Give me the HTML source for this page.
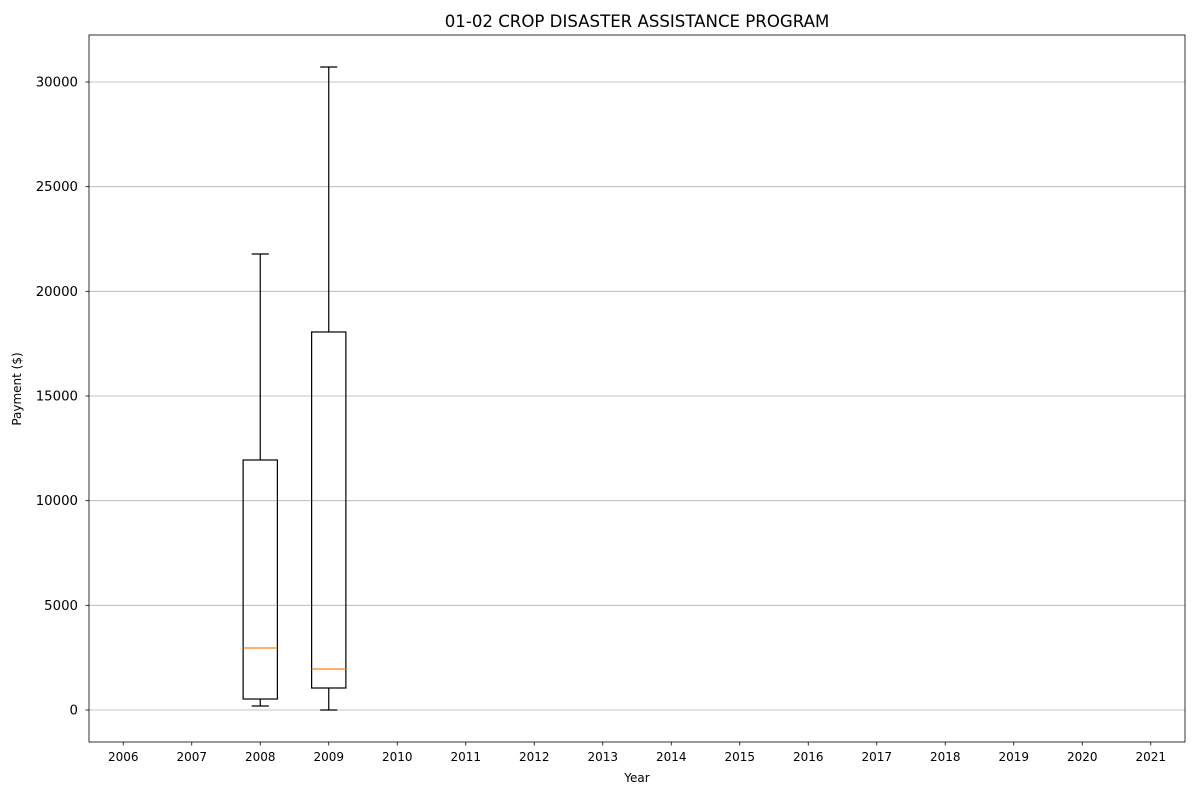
<!DOCTYPE html>
<html><head><meta charset="utf-8"><style>
body{margin:0;background:#fff;}
svg text{font-family:"DejaVu Sans","Liberation Sans",sans-serif;fill:#000;}
</style></head><body>
<svg id="chart" width="1200" height="800">
<rect width="1200" height="800" fill="#fff"/>
<text x="637" y="27" font-size="16.6" text-anchor="middle">01-02 CROP DISASTER ASSISTANCE PROGRAM</text>
<g id="grid"></g><g id="boxes"></g><g id="axes"></g>
<text x="637" y="782" font-size="12" text-anchor="middle">Year</text>
<text x="21" y="389" font-size="12" text-anchor="middle" transform="rotate(-90 21 389)">Payment ($)</text>
</svg>
<script>
const categories=["2006","2007","2008","2009","2010","2011","2012","2013","2014","2015","2016","2017","2018","2019","2020","2021"];
const boxYears=["2008","2009"];
const whiskerLow=[190,0];
const q1Values=[525,1051];
const medians=[2962,1959];
const q3Values=[11943,18058];
const whiskerHigh=[21784,30717];
const yTicks=[0,5000,10000,15000,20000,25000,30000];
const L=89,R=1185,T=35,B=742;
const y0=710,yPer=(710-82)/30000;
function ys(v){return y0-v*yPer;}
function xs(i){return L+(i+0.5)*(R-L)/categories.length;}
const NS="http://www.w3.org/2000/svg";
function mk(parent,tag,attrs){const e=document.createElementNS(NS,tag);for(const k in attrs)e.setAttribute(k,attrs[k]);document.getElementById(parent).appendChild(e);return e;}
yTicks.forEach(v=>{
 const g=mk('grid','line',{x1:L,x2:R,y1:ys(v),y2:ys(v),stroke:'#b0b0b0','stroke-width':0.8});
 
 
 mk('axes','line',{x1:L-3.5,x2:L,y1:ys(v),y2:ys(v),stroke:'#000','stroke-width':0.8});
 const t=mk('axes','text',{x:L-11,y:ys(v)+4.5,'font-size':13.3,'text-anchor':'end'});t.textContent=v;
 
 
});
categories.forEach((c,i)=>{
 mk('axes','line',{x1:xs(i),x2:xs(i),y1:B,y2:B+3.5,stroke:'#000','stroke-width':0.8});
 const t=mk('axes','text',{x:xs(i),y:B+19,'font-size':12,'text-anchor':'middle'});t.textContent=c;
 
 
});
const a=mk('axes','rect',{x:L,y:T,width:R-L,height:B-T,fill:'none',stroke:'#000','stroke-width':0.8});


const uw=(R-L)/categories.length;
boxYears.forEach((yr,j)=>{
 const cx=xs(categories.indexOf(yr)),hw=uw*0.25,cw=uw*0.125;
 const s={stroke:'#000','stroke-width':1.2};
 mk('boxes','line',Object.assign({x1:cx,x2:cx,y1:ys(q3Values[j]),y2:ys(whiskerHigh[j])},s));
 mk('boxes','line',Object.assign({x1:cx,x2:cx,y1:ys(q1Values[j]),y2:ys(whiskerLow[j])},s));
 mk('boxes','line',Object.assign({x1:cx-cw,x2:cx+cw,y1:ys(whiskerHigh[j]),y2:ys(whiskerHigh[j])},s));
 mk('boxes','line',Object.assign({x1:cx-cw,x2:cx+cw,y1:ys(whiskerLow[j]),y2:ys(whiskerLow[j])},s));
 const b=mk('boxes','rect',Object.assign({x:cx-hw,y:ys(q3Values[j]),width:2*hw,height:ys(q1Values[j])-ys(q3Values[j]),fill:'none'},s));
 
 
 const m=mk('boxes','line',{x1:cx-hw,x2:cx+hw,y1:ys(medians[j]),y2:ys(medians[j]),stroke:'#ff7f0e','stroke-width':1.2});
 
 
});
</script>
</body></html>
